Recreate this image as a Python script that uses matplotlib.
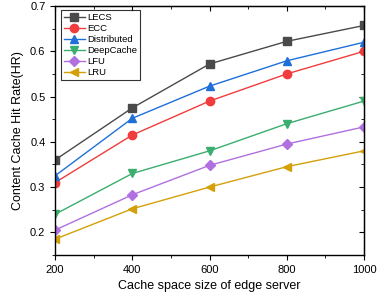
import matplotlib
matplotlib.use("Agg")
import matplotlib.pyplot as plt
from matplotlib.ticker import MultipleLocator

plt.rcParams["font.family"] = ["Liberation Sans", "DejaVu Sans"]

cache_sizes = [200, 400, 600, 800, 1000]
lecs = [0.360, 0.475, 0.572, 0.622, 0.657]
ecc = [0.310, 0.415, 0.490, 0.550, 0.600]
distributed = [0.325, 0.452, 0.523, 0.579, 0.620]
deepcache = [0.240, 0.330, 0.380, 0.440, 0.490]
lfu = [0.205, 0.283, 0.348, 0.395, 0.433]
lru = [0.185, 0.252, 0.300, 0.345, 0.380]

series = [
    ("LECS", lecs, "#4a4a4a", "s"),
    ("ECC", ecc, "#f03c3c", "o"),
    ("Distributed", distributed, "#1f6fd8", "^"),
    ("DeepCache", deepcache, "#3aae6e", "v"),
    ("LFU", lfu, "#b070e0", "D"),
    ("LRU", lru, "#d4a00a", "<"),
]

fig = plt.figure(figsize=(3.91, 3.01), dpi=100)
ax = fig.add_axes([0.141, 0.153, 0.790, 0.827])

for name, vals, color, marker in series:
    ms = 5 if marker == "D" else 6
    ax.plot(cache_sizes, vals, color=color, marker=marker, markersize=ms,
            linewidth=1.0, label=name)

ax.set_xlim(200, 1000)
ax.set_ylim(0.15, 0.7)
ax.xaxis.set_major_locator(MultipleLocator(200))
ax.xaxis.set_minor_locator(MultipleLocator(100))
ax.yaxis.set_major_locator(MultipleLocator(0.1))
ax.yaxis.set_minor_locator(MultipleLocator(0.05))
ax.tick_params(which="both", direction="out", labelsize=8)
ax.tick_params(which="major", length=3.5)
ax.tick_params(which="minor", length=2)
ax.set_xticks(cache_sizes)
ax.set_yticks([0.2, 0.3, 0.4, 0.5, 0.6, 0.7])

# mirrored ticks on top and right
top = ax.secondary_xaxis("top")
top.set_xticks(cache_sizes)
top.xaxis.set_minor_locator(MultipleLocator(100))
top.tick_params(which="both", direction="in", labeltop=False)
top.tick_params(which="major", length=3.5)
top.tick_params(which="minor", length=2)
right = ax.secondary_yaxis("right")
right.set_yticks([0.2, 0.3, 0.4, 0.5, 0.6, 0.7])
right.yaxis.set_minor_locator(MultipleLocator(0.05))
right.tick_params(which="both", direction="in", labelright=False)
right.tick_params(which="major", length=3.5)
right.tick_params(which="minor", length=2)

for sp in ax.spines.values():
    sp.set_linewidth(1.0)

ax.set_xlabel("Cache space size of edge server", fontsize=9)
ax.set_ylabel("Content Cache Hit Rate(HR)", fontsize=9)

leg = ax.legend(loc="upper left", fontsize=6.8, frameon=True, fancybox=False,
                edgecolor="black", handlelength=2.2, borderpad=0.3,
                labelspacing=0.22, handletextpad=0.3, borderaxespad=0.3,
                bbox_to_anchor=(0.01, 0.995))
leg.get_frame().set_linewidth(0.8)

fig.savefig("out.png", dpi=100)
